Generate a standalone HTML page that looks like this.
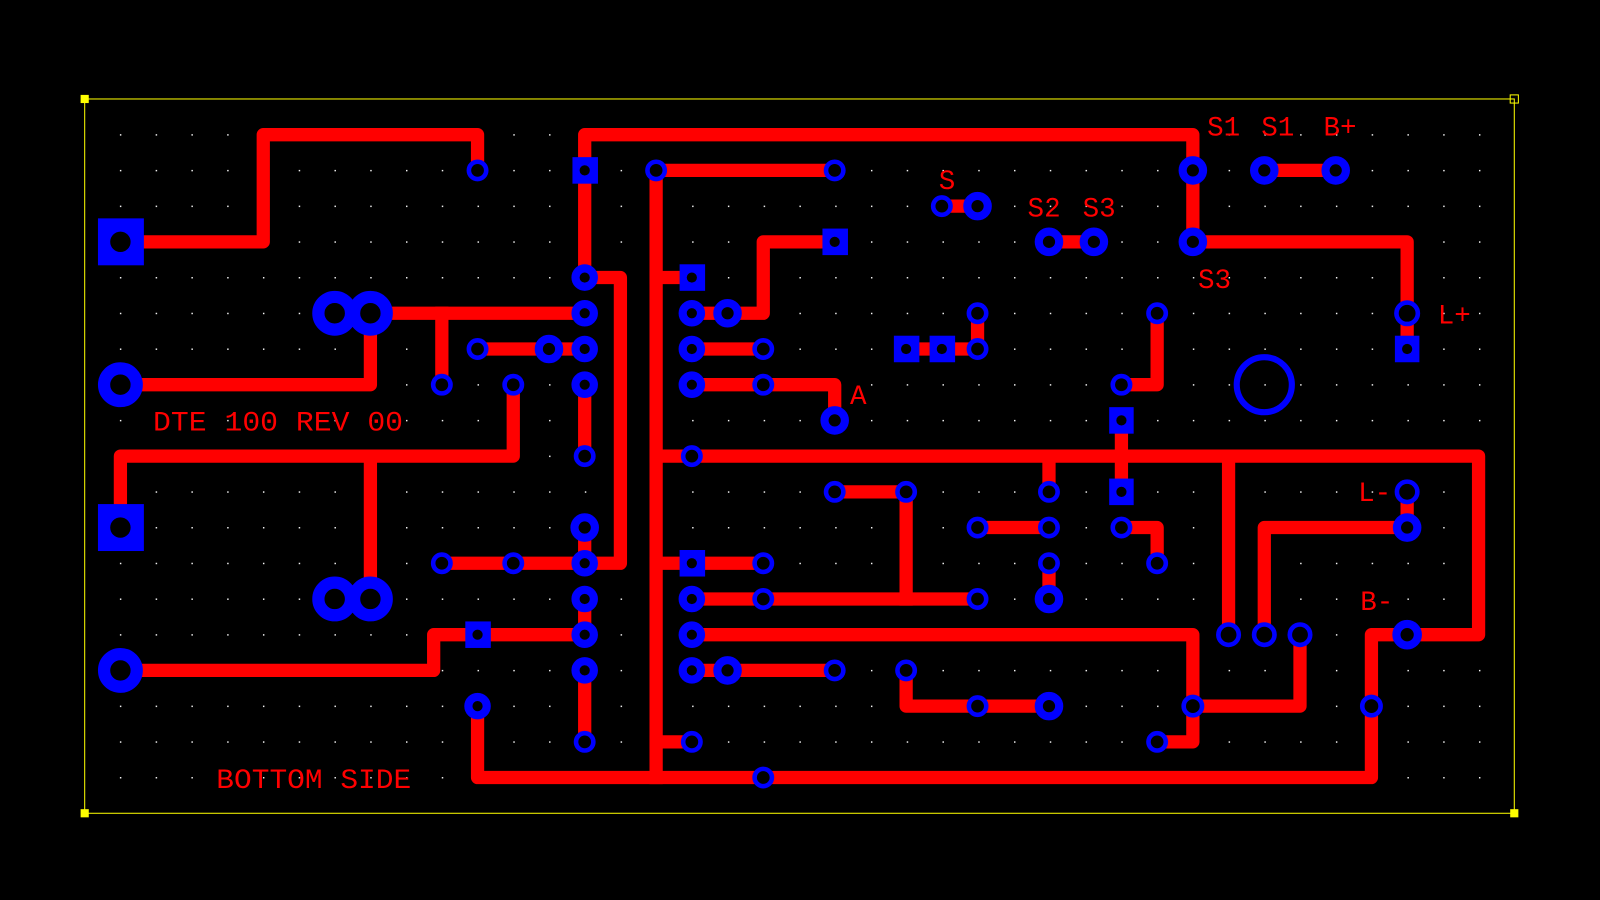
<!DOCTYPE html>
<html><head><meta charset="utf-8"><style>
html,body{margin:0;padding:0;background:#000;}
svg{display:block}
text{font-family:"Liberation Mono",monospace;fill:#f00;font-size:27px;}
</style></head><body>
<svg width="1600" height="900" viewBox="0 0 1568 882" preserveAspectRatio="none" xmlns="http://www.w3.org/2000/svg">
<defs>
<pattern id="g" x="117.5" y="131.5" width="35.05" height="35" patternUnits="userSpaceOnUse">
<rect width="1.4" height="1.4" fill="#fff"/>
</pattern>
</defs>
<rect width="1568" height="882" fill="#000"/>
<rect x="100" y="120" width="1365" height="660" fill="url(#g)"/>
<rect x="83" y="97" width="1401" height="700" fill="none" stroke="#ff0" stroke-width="1"/>
<rect x="79" y="93" width="8" height="8" fill="#ff0"/>
<rect x="1480" y="93" width="8" height="8" fill="none" stroke="#ff0"/>
<rect x="79" y="793" width="8" height="8" fill="#ff0"/>
<rect x="1480" y="793" width="8" height="8" fill="#ff0"/>
<g fill="none" stroke="#f00" stroke-width="13" stroke-linejoin="round" stroke-linecap="square">
<polyline points="118,237 258,237 258,132 468,132 468,167"/>
<polyline points="573,272 573,132 1169,132 1169,237 1379,237 1379,342"/>
<polyline points="643,167 818,167"/>
<polyline points="643,167 643,762"/>
<polyline points="363,307 573,307"/>
<polyline points="433,307 433,377"/>
<polyline points="363,307 363,377 118,377"/>
<polyline points="468,342 573,342"/>
<polyline points="573,272 608,272 608,552 573,552"/>
<polyline points="573,377 573,447"/>
<polyline points="503,377 503,447 118,447 118,517"/>
<polyline points="363,447 363,587"/>
<polyline points="643,272 678,272"/>
<polyline points="678,307 748,307 748,237 818,237"/>
<polyline points="678,342 748,342"/>
<polyline points="678,377 818,377 818,412"/>
<polyline points="643,447 1449,447 1449,622 1344,622 1344,762 468,762 468,692"/>
<polyline points="1028,447 1028,482"/>
<polyline points="1099,412 1099,482"/>
<polyline points="1204,447 1204,622"/>
<polyline points="1134,307 1134,377 1099,377"/>
<polyline points="958,307 958,342 888,342"/>
<polyline points="923,202 958,202"/>
<polyline points="1028,237 1072,237"/>
<polyline points="1239,167 1309,167"/>
<polyline points="818,482 888,482 888,587"/>
<polyline points="958,517 1028,517"/>
<polyline points="1099,517 1134,517 1134,552"/>
<polyline points="1028,552 1028,587"/>
<polyline points="1379,482 1379,517 1239,517 1239,622"/>
<polyline points="433,552 573,552"/>
<polyline points="573,517 573,552"/>
<polyline points="643,552 748,552"/>
<polyline points="678,587 958,587"/>
<polyline points="573,587 573,622"/>
<polyline points="573,657 573,727"/>
<polyline points="118,657 425,657 425,622 573,622"/>
<polyline points="678,622 1169,622 1169,727 1134,727"/>
<polyline points="678,657 818,657"/>
<polyline points="888,657 888,692 1028,692"/>
<polyline points="1169,692 1274,692 1274,622"/>
<polyline points="643,727 678,727"/>
</g>
<g fill="#00f">
<rect x="96" y="214" width="45" height="46"/>
<rect x="96" y="494" width="45" height="46"/>
<rect x="561" y="154" width="25" height="26"/>
<rect x="666" y="259" width="25" height="26"/>
<rect x="806" y="224" width="25" height="26"/>
<rect x="876" y="329" width="25" height="26"/>
<rect x="911" y="329" width="25" height="26"/>
<rect x="1087" y="399" width="24" height="26"/>
<rect x="1087" y="469" width="24" height="26"/>
<rect x="1367" y="329" width="24" height="26"/>
<rect x="666" y="539" width="25" height="26"/>
<rect x="456" y="609" width="25" height="26"/>
</g>
<g fill="#000">
<circle cx="118" cy="237" r="10"/><circle cx="118" cy="517" r="10"/>
<circle cx="573" cy="167" r="5"/><circle cx="678" cy="272" r="5"/><circle cx="818" cy="237" r="5"/>
<circle cx="888" cy="342" r="5"/><circle cx="923" cy="342" r="5"/><circle cx="1099" cy="412" r="5"/>
<circle cx="1099" cy="482" r="5"/><circle cx="1379" cy="342" r="5"/><circle cx="678" cy="552" r="5"/><circle cx="468" cy="622" r="5"/>
</g>
<g fill="#000" stroke="#00f" stroke-width="4.5">
<circle cx="468" cy="167" r="8.5"/><circle cx="643" cy="167" r="8.5"/><circle cx="818" cy="167" r="8.5"/>
<circle cx="468" cy="342" r="8.5"/><circle cx="433" cy="377" r="8.5"/><circle cx="503" cy="377" r="8.5"/>
<circle cx="573" cy="447" r="8.5"/><circle cx="748" cy="342" r="8.5"/><circle cx="748" cy="377" r="8.5"/>
<circle cx="678" cy="447" r="8.5"/><circle cx="923" cy="202" r="8.5"/><circle cx="958" cy="307" r="8.5"/>
<circle cx="958" cy="342" r="8.5"/><circle cx="1134" cy="307" r="8.5"/><circle cx="1099" cy="377" r="8.5"/>
<circle cx="818" cy="482" r="8.5"/><circle cx="888" cy="482" r="8.5"/><circle cx="1028" cy="482" r="8.5"/>
<circle cx="958" cy="517" r="8.5"/><circle cx="1028" cy="517" r="8.5"/><circle cx="1028" cy="552" r="8.5"/>
<circle cx="1099" cy="517" r="8.5"/><circle cx="1134" cy="552" r="8.5"/><circle cx="433" cy="552" r="8.5"/>
<circle cx="503" cy="552" r="8.5"/><circle cx="748" cy="552" r="8.5"/><circle cx="748" cy="587" r="8.5"/>
<circle cx="958" cy="587" r="8.5"/><circle cx="818" cy="657" r="8.5"/><circle cx="888" cy="657" r="8.5"/>
<circle cx="958" cy="692" r="8.5"/><circle cx="573" cy="727" r="8.5"/><circle cx="678" cy="727" r="8.5"/>
<circle cx="748" cy="762" r="8.5"/><circle cx="1134" cy="727" r="8.5"/><circle cx="1169" cy="692" r="9"/>
<circle cx="1344" cy="692" r="9"/><circle cx="1204" cy="622" r="10"/><circle cx="1239" cy="622" r="10"/>
<circle cx="1274" cy="622" r="10"/><circle cx="1379" cy="482" r="10"/><circle cx="1379" cy="307" r="10.5"/>
</g>
<g fill="#000" stroke="#00f" stroke-width="8">
<circle cx="573" cy="272" r="9"/><circle cx="573" cy="307" r="9"/><circle cx="573" cy="342" r="9"/>
<circle cx="573" cy="377" r="9"/><circle cx="573" cy="517" r="10"/><circle cx="573" cy="552" r="9"/>
<circle cx="573" cy="587" r="9"/><circle cx="573" cy="622" r="9"/><circle cx="573" cy="657" r="9"/>
<circle cx="678" cy="307" r="9"/><circle cx="678" cy="342" r="9"/><circle cx="678" cy="377" r="9"/>
<circle cx="678" cy="587" r="9"/><circle cx="678" cy="622" r="9"/><circle cx="678" cy="657" r="9"/>
<circle cx="713" cy="307" r="10"/><circle cx="713" cy="657" r="10"/><circle cx="538" cy="342" r="10"/>
<circle cx="818" cy="412" r="10"/><circle cx="468" cy="692" r="9"/>
<circle cx="958" cy="202" r="10"/><circle cx="1028" cy="237" r="10"/><circle cx="1072" cy="237" r="10"/>
<circle cx="1169" cy="167" r="10"/><circle cx="1169" cy="237" r="10"/><circle cx="1239" cy="167" r="10"/>
<circle cx="1309" cy="167" r="10"/><circle cx="1028" cy="587" r="10"/><circle cx="1028" cy="692" r="10"/>
<circle cx="1379" cy="517" r="10"/><circle cx="1379" cy="622" r="10.5"/>
</g>
<g fill="#000" stroke="#00f" stroke-width="12">
<circle cx="328" cy="307" r="16"/><circle cx="363" cy="307" r="16"/>
<circle cx="328" cy="587" r="16"/><circle cx="363" cy="587" r="16"/>
<circle cx="118" cy="377" r="16"/><circle cx="118" cy="657" r="16"/>
</g>
<circle cx="1239" cy="377" r="27" fill="none" stroke="#00f" stroke-width="6"/>
<text x="150" y="422" textLength="245" lengthAdjust="spacingAndGlyphs">DTE 100 REV 00</text>
<text x="212" y="772" textLength="191" lengthAdjust="spacingAndGlyphs">BOTTOM SIDE</text>
<text x="1183" y="133">S1</text>
<text x="1236" y="133">S1</text>
<text x="1297" y="133">B+</text>
<text x="920" y="185">S</text>
<text x="1007" y="212">S2</text>
<text x="1061" y="212">S3</text>
<text x="1174" y="282">S3</text>
<text x="1409" y="317">L+</text>
<text x="833" y="396">A</text>
<text x="1331" y="491">L-</text>
<text x="1333" y="598">B-</text>
</svg>
</body></html>
